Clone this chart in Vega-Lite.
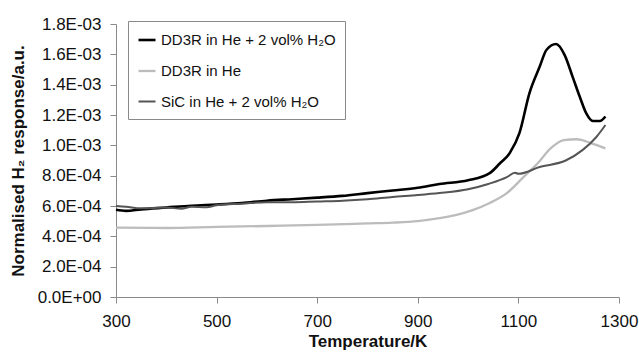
{
  "$schema": "https://vega.github.io/schema/vega-lite/v6.json",
  "width": 503,
  "height": 273,
  "autosize": {"type": "none"},
  "padding": {"left": 116, "top": 24, "right": 20, "bottom": 61},
  "background": "white",
  "config": {
    "view": {"stroke": null},
    "font": "Liberation Sans",
    "axis": {"grid": false, "labelFlush": false, "domainColor": "#8a8a8a", "tickColor": "#8a8a8a", "tickSize": 6, "labelColor": "#111", "titleColor": "#111", "labelFont": "Liberation Sans", "titleFont": "Liberation Sans", "labelFontSize": 17, "titleFontSize": 17, "titleFontWeight": "bold"},
    "legend": {"title": null, "orient": "none", "legendX": 12, "legendY": -3, "symbolType": "stroke", "symbolSize": 289, "labelFontSize": 15, "labelFont": "Liberation Sans", "labelColor": "#111", "rowPadding": 13, "padding": 9, "labelOffset": 4, "strokeColor": "#8a8a8a", "fillColor": "white", "labelLimit": 300}
  },
  "data": {"values": [
    {"s": "DD3R in He + 2 vol% H₂O", "T": 300, "v": 0.000575},
    {"s": "DD3R in He + 2 vol% H₂O", "T": 320, "v": 0.000568},
    {"s": "DD3R in He + 2 vol% H₂O", "T": 350, "v": 0.000578},
    {"s": "DD3R in He + 2 vol% H₂O", "T": 400, "v": 0.00059},
    {"s": "DD3R in He + 2 vol% H₂O", "T": 450, "v": 0.000602},
    {"s": "DD3R in He + 2 vol% H₂O", "T": 500, "v": 0.00061},
    {"s": "DD3R in He + 2 vol% H₂O", "T": 550, "v": 0.00062},
    {"s": "DD3R in He + 2 vol% H₂O", "T": 600, "v": 0.000635},
    {"s": "DD3R in He + 2 vol% H₂O", "T": 650, "v": 0.000645},
    {"s": "DD3R in He + 2 vol% H₂O", "T": 700, "v": 0.000655},
    {"s": "DD3R in He + 2 vol% H₂O", "T": 750, "v": 0.000667},
    {"s": "DD3R in He + 2 vol% H₂O", "T": 800, "v": 0.000685},
    {"s": "DD3R in He + 2 vol% H₂O", "T": 850, "v": 0.000702},
    {"s": "DD3R in He + 2 vol% H₂O", "T": 900, "v": 0.00072},
    {"s": "DD3R in He + 2 vol% H₂O", "T": 943, "v": 0.000745},
    {"s": "DD3R in He + 2 vol% H₂O", "T": 1000, "v": 0.00077},
    {"s": "DD3R in He + 2 vol% H₂O", "T": 1043, "v": 0.000817},
    {"s": "DD3R in He + 2 vol% H₂O", "T": 1063, "v": 0.00088},
    {"s": "DD3R in He + 2 vol% H₂O", "T": 1083, "v": 0.00095},
    {"s": "DD3R in He + 2 vol% H₂O", "T": 1102, "v": 0.00108},
    {"s": "DD3R in He + 2 vol% H₂O", "T": 1122, "v": 0.001345},
    {"s": "DD3R in He + 2 vol% H₂O", "T": 1142, "v": 0.001516},
    {"s": "DD3R in He + 2 vol% H₂O", "T": 1156, "v": 0.00163},
    {"s": "DD3R in He + 2 vol% H₂O", "T": 1175, "v": 0.001668},
    {"s": "DD3R in He + 2 vol% H₂O", "T": 1192, "v": 0.001595},
    {"s": "DD3R in He + 2 vol% H₂O", "T": 1208, "v": 0.00145},
    {"s": "DD3R in He + 2 vol% H₂O", "T": 1222, "v": 0.00132},
    {"s": "DD3R in He + 2 vol% H₂O", "T": 1235, "v": 0.00121},
    {"s": "DD3R in He + 2 vol% H₂O", "T": 1248, "v": 0.00116},
    {"s": "DD3R in He + 2 vol% H₂O", "T": 1262, "v": 0.00116},
    {"s": "DD3R in He + 2 vol% H₂O", "T": 1273, "v": 0.00119},
    {"s": "DD3R in He", "T": 300, "v": 0.000457},
    {"s": "DD3R in He", "T": 400, "v": 0.000455},
    {"s": "DD3R in He", "T": 500, "v": 0.000462},
    {"s": "DD3R in He", "T": 600, "v": 0.000468},
    {"s": "DD3R in He", "T": 700, "v": 0.000475},
    {"s": "DD3R in He", "T": 800, "v": 0.000485},
    {"s": "DD3R in He", "T": 850, "v": 0.00049},
    {"s": "DD3R in He", "T": 900, "v": 0.0005},
    {"s": "DD3R in He", "T": 943, "v": 0.00052},
    {"s": "DD3R in He", "T": 975, "v": 0.00054},
    {"s": "DD3R in He", "T": 1009, "v": 0.000573},
    {"s": "DD3R in He", "T": 1043, "v": 0.00062},
    {"s": "DD3R in He", "T": 1077, "v": 0.000685},
    {"s": "DD3R in He", "T": 1110, "v": 0.00079},
    {"s": "DD3R in He", "T": 1138, "v": 0.00088},
    {"s": "DD3R in He", "T": 1164, "v": 0.00098},
    {"s": "DD3R in He", "T": 1190, "v": 0.001035},
    {"s": "DD3R in He", "T": 1216, "v": 0.00104},
    {"s": "DD3R in He", "T": 1244, "v": 0.001015},
    {"s": "DD3R in He", "T": 1273, "v": 0.00098},
    {"s": "SiC in He + 2 vol% H₂O", "T": 300, "v": 0.0006},
    {"s": "SiC in He + 2 vol% H₂O", "T": 320, "v": 0.000595},
    {"s": "SiC in He + 2 vol% H₂O", "T": 350, "v": 0.000585},
    {"s": "SiC in He + 2 vol% H₂O", "T": 400, "v": 0.00059},
    {"s": "SiC in He + 2 vol% H₂O", "T": 430, "v": 0.000582},
    {"s": "SiC in He + 2 vol% H₂O", "T": 450, "v": 0.000595},
    {"s": "SiC in He + 2 vol% H₂O", "T": 480, "v": 0.000592},
    {"s": "SiC in He + 2 vol% H₂O", "T": 500, "v": 0.000605},
    {"s": "SiC in He + 2 vol% H₂O", "T": 550, "v": 0.000615},
    {"s": "SiC in He + 2 vol% H₂O", "T": 600, "v": 0.000625},
    {"s": "SiC in He + 2 vol% H₂O", "T": 650, "v": 0.000625},
    {"s": "SiC in He + 2 vol% H₂O", "T": 700, "v": 0.00063},
    {"s": "SiC in He + 2 vol% H₂O", "T": 750, "v": 0.000635},
    {"s": "SiC in He + 2 vol% H₂O", "T": 800, "v": 0.000645},
    {"s": "SiC in He + 2 vol% H₂O", "T": 850, "v": 0.00066},
    {"s": "SiC in He + 2 vol% H₂O", "T": 900, "v": 0.000672},
    {"s": "SiC in He + 2 vol% H₂O", "T": 943, "v": 0.000685},
    {"s": "SiC in He + 2 vol% H₂O", "T": 1000, "v": 0.00071},
    {"s": "SiC in He + 2 vol% H₂O", "T": 1040, "v": 0.000745},
    {"s": "SiC in He + 2 vol% H₂O", "T": 1077, "v": 0.00079},
    {"s": "SiC in He + 2 vol% H₂O", "T": 1093, "v": 0.00082},
    {"s": "SiC in He + 2 vol% H₂O", "T": 1100, "v": 0.000812},
    {"s": "SiC in He + 2 vol% H₂O", "T": 1142, "v": 0.000857},
    {"s": "SiC in He + 2 vol% H₂O", "T": 1194, "v": 0.0009},
    {"s": "SiC in He + 2 vol% H₂O", "T": 1228, "v": 0.00097},
    {"s": "SiC in He + 2 vol% H₂O", "T": 1255, "v": 0.001055},
    {"s": "SiC in He + 2 vol% H₂O", "T": 1273, "v": 0.001134}
  ]},
  "mark": {"type": "line", "interpolate": "monotone"},
  "encoding": {
    "x": {"field": "T", "type": "quantitative", "scale": {"domain": [300, 1300], "nice": false}, "axis": {"values": [300, 500, 700, 900, 1100, 1300], "format": "d", "title": "Temperature/K", "labelPadding": 10, "titlePadding": 4}},
    "y": {"field": "v", "type": "quantitative", "scale": {"domain": [0, 0.0018], "nice": false}, "axis": {"values": [0, 0.0002, 0.0004, 0.0006, 0.0008, 0.001, 0.0012, 0.0014, 0.0016, 0.0018], "labelExpr": "datum.value == 0 ? '0.0E+00' : datum.value >= 0.00099 ? format(datum.value*1000, '.1f') + 'E-03' : format(datum.value*10000, '.1f') + 'E-04'", "title": "Normalised H₂ response/a.u.", "labelPadding": 9, "titlePadding": 10}},
    "color": {"field": "s", "type": "nominal", "scale": {"domain": ["DD3R in He + 2 vol% H₂O", "DD3R in He", "SiC in He + 2 vol% H₂O"], "range": ["#000000", "#bcbcbc", "#555555"]}},
    "strokeWidth": {"field": "s", "type": "nominal", "scale": {"domain": ["DD3R in He + 2 vol% H₂O", "DD3R in He", "SiC in He + 2 vol% H₂O"], "range": [2.6, 2, 1]}}
  }
}
